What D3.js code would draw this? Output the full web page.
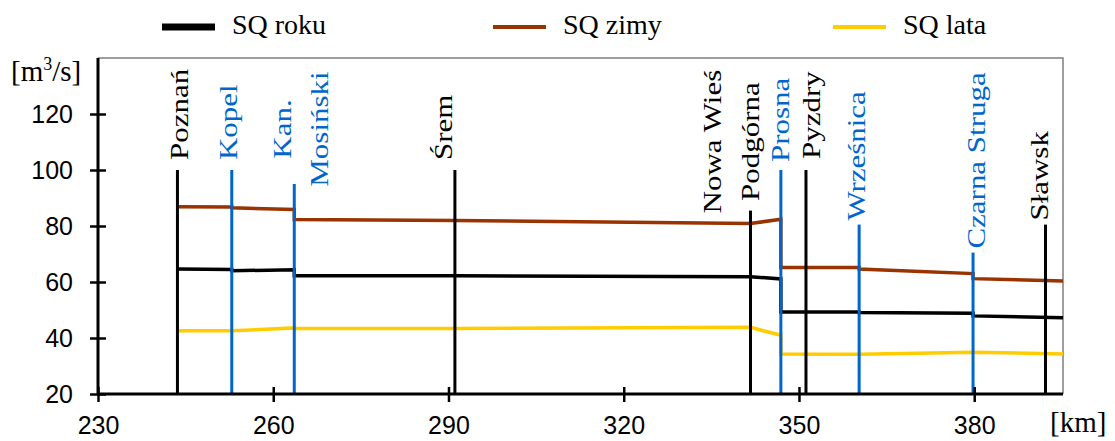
<!DOCTYPE html>
<html>
<head>
<meta charset="utf-8">
<script src="https://cdn.jsdelivr.net/npm/d3@7"></script>
<style>
  body { margin: 0; background: #fff; }
</style>
</head>
<body>
<svg id="chart" width="1115" height="441"></svg>
<script>
// river km of the line points (a km is repeated where a tributary joins and the flow jumps)
const km     = [243.6, 252.9, 252.9, 263.6, 263.6, 291.1, 341.7, 346.9, 346.9, 360.3, 360.3, 379.8, 379.8, 395.2];
const sqRoku = [64.6, 64.5, 64.0, 64.4, 62.2, 62.2, 61.9, 61.1, 49.3, 49.3, 49.1, 48.8, 47.9, 47.2];
const sqZimy = [86.9, 86.8, 86.5, 85.9, 82.3, 82.0, 80.9, 82.4, 65.2, 65.2, 64.6, 63.0, 61.2, 60.4];
const sqLata = [42.6, 42.6, 42.6, 43.6, 43.4, 43.4, 43.8, 41.0, 34.3, 34.2, 34.2, 34.9, 34.9, 34.3];
const seriesNames = ["SQ roku", "SQ zimy", "SQ lata"];

// gauges (black) and tributary mouths (blue)
const stationKm   = [243.6, 252.9, 263.6, 291.1, 341.7, 346.9, 351.2, 360.3, 379.8, 392.2];
const stationTop  = [100, 100, 95, 100, 85.5, 100, 100, 80.5, 70.5, 80.5];
const stationName = [["Poznań"], ["Kopel"], ["Kan.", "Mosiński"], ["Śrem"], ["Nowa Wieś", "Podgórna"],
                     ["Prosna"], ["Pyzdry"], ["Wrześnica"], ["Czarna Struga"], ["Sławsk"]];
const stationKind = ["gauge", "tributary", "tributary", "gauge", "gauge",
                     "tributary", "gauge", "tributary", "tributary", "gauge"];

const xTicks = [230, 260, 290, 320, 350, 380];
const yTicks = [20, 40, 60, 80, 100, 120];

// ---- layout ----
const plotLeft = 98, plotRight = 1063, plotTop = 58, plotBottom = 394;
const colors = { "SQ roku": "#000000", "SQ zimy": "#993300", "SQ lata": "#FFCC00" };
const kindColor = { gauge: "#000000", tributary: "#0066CC" };

// label placement: dx per line (px across the line), gap above the line top
const labelLayout = [
  { dx: [2], gap: 10 }, { dx: [-3], gap: 10 }, { dx: [-12, 25], gap: 55, mid: true },
  { dx: [-12], gap: 10 }, { dx: [-38, 0], gap: 69, mid: true }, { dx: [0], gap: 8 },
  { dx: [5], gap: 11 }, { dx: [-3], gap: 4 }, { dx: [3], gap: 4 }, { dx: [-6], gap: 4 }
];

const svg = d3.select("#chart");

const x = d3.scaleLinear().domain([230, 395.2]).range([plotLeft, plotRight]);
const y = d3.scaleLinear().domain([20, 140]).range([plotBottom, plotTop]);

// frame (top and right)
svg.append("path")
  .attr("d", `M${plotLeft},${plotTop}H${plotRight}V${plotBottom}`)
  .attr("fill", "none").attr("stroke", "#7f7f7f").attr("stroke-width", 1.5);

// series
const series = [sqRoku, sqZimy, sqLata];
const line = d3.line().x((d, i) => x(km[i])).y(d => y(d));
series.forEach(function(values, s) {
  svg.append("path")
    .datum(values)
    .attr("d", line)
    .attr("fill", "none")
    .attr("stroke", colors[seriesNames[s]])
    .attr("stroke-width", 3.5)
    .attr("stroke-linejoin", "miter");
});

// station lines
const stations = stationKm.map((k, i) => ({ km: k, top: stationTop[i], name: stationName[i], kind: stationKind[i], lay: labelLayout[i] }));

svg.selectAll("line.station")
  .data(stations)
  .enter()
  .append("line")
  .attr("class", "station")
  .attr("x1", d => x(d.km)).attr("x2", d => x(d.km))
  .attr("y1", y(20)).attr("y2", d => y(d.top))
  .attr("stroke", d => kindColor[d.kind])
  .attr("stroke-width", 3);

// station labels (rotated, Times)
stations.forEach(function(d) {
  d.name.forEach(function(txt, j) {
    const lx = x(d.km) + d.lay.dx[j];
    const ly = y(d.top) - d.lay.gap;
    svg.append("text")
      .attr("transform", `translate(${lx},${ly}) rotate(-90) scale(1,0.84)`)
      .attr("dy", "0.33em")
      .attr("text-anchor", d.lay.mid ? "middle" : "start")
      .attr("font-family", "'Liberation Serif', 'Times New Roman', serif")
      .attr("font-size", 31)
      .attr("fill", kindColor[d.kind])
      .text(txt);
  });
});

// axes
const xAxis = svg.append("g")
  .attr("transform", `translate(0,${plotBottom})`)
  .call(d3.axisBottom(x).tickValues(xTicks).tickSize(0).tickPadding(22));
const yAxis = svg.append("g")
  .attr("transform", `translate(${plotLeft},0)`)
  .call(d3.axisLeft(y).tickValues(yTicks).tickSize(0).tickPadding(25));

[xAxis, yAxis].forEach(function(ax) {
  ax.select(".domain").attr("stroke", "#000").attr("stroke-width", 3);
  ax.selectAll("text")
    .attr("font-family", "'Liberation Sans', Arial, sans-serif")
    .attr("font-size", 25)
    .attr("fill", "#000");
});
xAxis.selectAll(".tick line").attr("y1", -7).attr("y2", 8).attr("stroke", "#000").attr("stroke-width", 2.5);
yAxis.selectAll(".tick line").attr("x1", -8).attr("x2", 8).attr("stroke", "#000").attr("stroke-width", 2.5);
xAxis.select(".domain").attr("d", `M${plotLeft},0H${plotRight}`);
yAxis.select(".domain").attr("d", `M0,${plotBottom}V${plotTop}`);

// unit labels
const unitY = svg.append("text")
  .attr("x", 11).attr("y", 81)
  .attr("font-family", "'Liberation Serif', 'Times New Roman', serif")
  .attr("font-size", 29);
unitY.append("tspan").text("[m");
unitY.append("tspan").attr("font-size", 18).attr("dy", -11).text("3");
unitY.append("tspan").attr("dy", 11).text("/s]");

svg.append("text")
  .attr("x", 1050).attr("y", 432)
  .attr("font-family", "'Liberation Serif', 'Times New Roman', serif")
  .attr("font-size", 29)
  .text("[km]");

// legend
const legendX = [162, 493, 833];
const legendW = [7, 4, 4];
const legend = svg.selectAll("g.legend")
  .data(seriesNames)
  .enter()
  .append("g")
  .attr("class", "legend")
  .attr("transform", (d, i) => `translate(${legendX[i]},27)`);
legend.append("line")
  .attr("x1", 0).attr("x2", 53)
  .attr("stroke", d => colors[d])
  .attr("stroke-width", (d, i) => legendW[i]);
legend.append("text")
  .attr("x", 70).attr("y", 7)
  .attr("font-family", "'Liberation Serif', 'Times New Roman', serif")
  .attr("font-size", 28)
  .text(d => d);
</script>
</body>
</html>
